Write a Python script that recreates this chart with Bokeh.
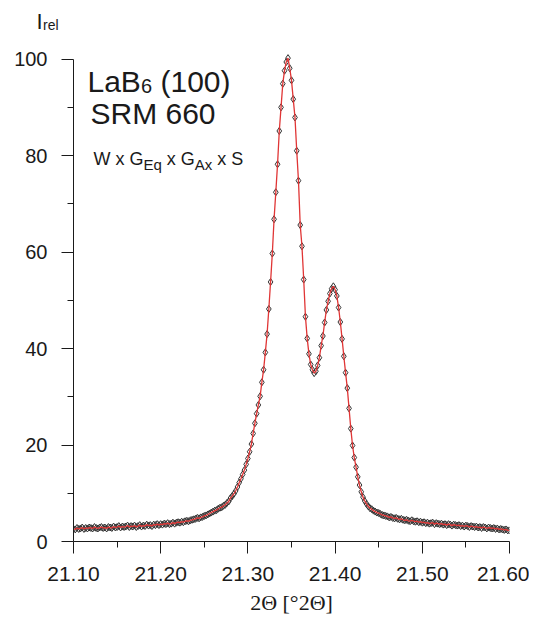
import numpy as np
from bokeh.plotting import figure
from bokeh.models import Range1d, FixedTicker, NumeralTickFormatter, Label, ColumnDataSource
from bokeh.embed import file_html
from bokeh.resources import INLINE

# ---- data ----
scan_start = 21.10   # first 2-theta of the scan
scan_step = 0.002    # step width of the scan
intensity = [
    2.6, 2.5, 2.8, 2.6, 2.7, 2.9, 2.6, 2.8, 2.7, 2.9,
    2.8, 2.7, 3.0, 2.8, 2.7, 2.9, 3.0, 2.8, 2.9, 2.7,
    3.0, 2.9, 2.8, 3.1, 2.9, 3.0, 3.2, 2.9, 3.1, 3.0,
    3.1, 3.3, 3.0, 3.2, 3.1, 3.3, 3.0, 3.2, 3.4, 3.1,
    3.3, 3.2, 3.5, 3.3, 3.4, 3.2, 3.5, 3.4, 3.6, 3.4,
    3.6, 3.5, 3.7, 3.6, 3.8, 3.6, 3.7, 3.9, 3.7, 3.9,
    4.0, 3.9, 4.1, 4.0, 4.2, 4.3, 4.2, 4.4, 4.5, 4.6,
    4.7, 4.9, 4.8, 5.0, 5.1, 5.3, 5.4, 5.6, 5.8, 6.0,
    6.2, 6.4, 6.5, 6.8, 7.0, 7.1, 7.4, 7.6, 8.0, 8.3,
    9.0, 9.4, 9.9, 10.5, 11.3, 12.2, 13.0, 13.9, 14.8, 16.0,
    17.2, 18.6, 20.2, 22.4, 24.5, 26.5, 28.3, 30.1, 33.0, 35.6,
    39.2, 43.0, 48.2, 53.8, 59.7, 66.8, 72.4, 78.2, 85.1, 90.0,
    94.9, 97.6, 99.4, 100.2, 98.1, 95.6, 91.7, 87.9, 81.0, 74.8,
    65.6, 61.2, 54.3, 46.6, 42.1, 38.9, 36.7, 35.6, 34.9, 35.3,
    36.5, 38.1, 40.6, 42.6, 45.4, 48.0, 49.8, 51.4, 52.4, 52.9,
    52.2, 50.9, 48.5, 45.5, 42.0, 38.4, 35.0, 31.8, 27.6, 23.4,
    19.9, 17.4, 15.4, 13.4, 11.7, 10.3, 9.2, 8.4, 7.8, 7.3,
    6.9, 6.7, 6.4, 6.2, 6.0, 5.9, 5.7, 5.5, 5.4, 5.3,
    5.2, 5.0, 5.1, 4.9, 4.8, 4.9, 4.7, 4.6, 4.7, 4.5,
    4.4, 4.5, 4.3, 4.2, 4.4, 4.2, 4.1, 4.2, 4.0, 4.1,
    3.9, 4.0, 3.8, 3.9, 3.7, 3.8, 3.9, 3.6, 3.8, 3.7,
    3.6, 3.7, 3.5, 3.6, 3.4, 3.6, 3.5, 3.3, 3.5, 3.4,
    3.3, 3.4, 3.2, 3.3, 3.1, 3.3, 3.2, 3.0, 3.2, 3.1,
    3.0, 3.1, 2.9, 3.0, 2.8, 3.0, 2.9, 2.7, 2.9, 2.8,
    2.7, 2.8, 2.6, 2.7, 2.5, 2.6, 2.5, 2.4, 2.5, 2.3,
    2.3,
]
x_ticks = [21.10, 21.20, 21.30, 21.40, 21.50, 21.60]
x_minor_ticks = [21.15, 21.25, 21.35, 21.45, 21.55]
y_ticks = [0, 20, 40, 60, 80, 100]
y_minor_ticks = [10, 30, 50, 70, 90]

two_theta = np.round(scan_start + scan_step * np.arange(len(intensity)), 4)
src = ColumnDataSource(data=dict(x=two_theta, y=intensity))

INK = "#1a1a1a"
SANS = "Liberation Sans"

p = figure(
    output_backend="svg", toolbar_location=None,
    frame_width=436, frame_height=492,
    min_border_left=73, min_border_right=20, min_border_top=49, min_border_bottom=60,
    x_range=Range1d(21.10, 21.60), y_range=Range1d(0, 101.99),
    background_fill_color="white", border_fill_color="white",
)
p.outline_line_color = None
p.grid.visible = False

for ax in (p.xaxis[0], p.yaxis[0]):
    ax.axis_line_color = INK
    ax.axis_line_width = 1
    ax.major_tick_line_color = INK
    ax.minor_tick_line_color = INK
    ax.major_tick_in = 0
    ax.minor_tick_in = 0
    ax.major_tick_out = 12
    ax.minor_tick_out = 6
    ax.major_label_text_font = SANS
    ax.major_label_text_color = INK

p.xaxis.ticker = FixedTicker(ticks=x_ticks, minor_ticks=x_minor_ticks)
p.xaxis.formatter = NumeralTickFormatter(format="0.00")
p.xaxis.major_label_text_font_size = "21px"
p.xaxis.major_label_standoff = 13
p.xaxis.axis_label = "2\u0398 [\u00b02\u0398]"
p.xaxis.axis_label_text_font = "Liberation Serif"
p.xaxis.axis_label_text_font_style = "normal"
p.xaxis.axis_label_text_font_size = "22px"
p.xaxis.axis_label_text_color = INK
p.xaxis.axis_label_standoff = 6

p.yaxis.ticker = FixedTicker(ticks=y_ticks, minor_ticks=y_minor_ticks)
p.yaxis.major_label_text_font_size = "20px"
p.yaxis.major_label_standoff = 14
p.yaxis.bounds = (0, 100)

p.scatter("x", "y", source=src, marker="diamond", size=7,
          fill_color=None, line_color="#333333", line_width=1)
p.line("x", "y", source=src, line_color="#e03535", line_width=1.3)

# annotation texts, positioned in pixels from the data point (21.10, 0)
X0_PAGE, Y0_PAGE = 73, 541


def txt(s, px, py, size, font=SANS, place=None):
    lab = Label(x=21.10, y=0, x_offset=px - X0_PAGE, y_offset=Y0_PAGE - py,
                text=s, text_font=font, text_font_size=f"{size}px",
                text_color=INK, text_baseline="alphabetic", text_align="left")
    if place is None:
        p.add_layout(lab)
    else:
        p.add_layout(lab, place)


# axis title of the intensity axis, outside the plotting frame
txt("I", 36, 21, 22, place="above")
txt("rel", 42.5, 24, 14, place="above")

txt("LaB", 87, 81, 30)
txt("6", 140.5, 85, 20)
txt("(100)", 160, 81, 30)
txt("SRM 660", 90, 113, 30)
txt("W x G", 93, 158, 18)
txt("Eq", 143, 164, 15)
txt("x G", 166.3, 158, 18)
txt("Ax", 194.3, 164, 15)
txt("x S", 216.8, 158, 18)

open("out.html", "w").write(file_html(p, INLINE))
